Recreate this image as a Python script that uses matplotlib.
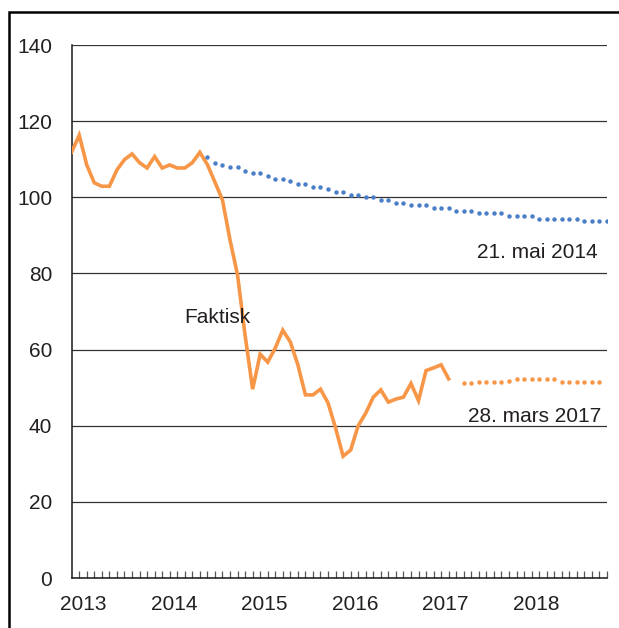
import matplotlib.pyplot as plt
import matplotlib.patches as patches
import numpy as np

plt.rcParams['font.family'] = ['Liberation Sans', 'DejaVu Sans']

# monthly oil price, Jan 2013 - Mar 2017
faktisk_start = (2013, 1)
faktisk = [111.9, 116.3, 108.5, 103.8, 102.9, 102.9, 107.2, 109.9, 111.4, 109.1, 107.7, 110.7,
           107.7, 108.5, 107.7, 107.7, 109.1, 111.8, 108.6, 104.0, 99.3, 88.8, 79.6, 63.8,
           49.6, 58.8, 56.7, 60.4, 65.1, 62.0, 56.0, 48.1, 48.1, 49.6, 46.0, 39.4,
           32.0, 33.6, 40.0, 43.3, 47.5, 49.4, 46.2, 47.0, 47.5, 51.1, 46.6, 54.5,
           55.2, 56.0, 52.3]

# futures 21. mai 2014, Jul 2014 - Dec 2018
mai_start = (2014, 7)
mai2014 = [110.5, 109.1, 108.5, 107.9, 107.9, 107.0, 106.3, 106.3, 105.6, 104.9,
           104.9, 104.3, 103.5, 103.5, 102.8, 102.8, 102.1, 101.4, 101.4, 100.7,
           100.7, 100.0, 100.0, 99.3, 99.3, 98.6, 98.6, 97.9, 97.9, 97.9,
           97.2, 97.2, 97.2, 96.5, 96.5, 96.5, 95.8, 95.8, 95.8, 95.8,
           95.1, 95.1, 95.1, 95.1, 94.4, 94.4, 94.4, 94.4, 94.4, 94.4,
           93.7, 93.7, 93.7, 93.7]

# futures 28. mars 2017, May 2017 - Nov 2018
mars_start = (2017, 5)
mars2017 = [51.1, 51.1, 51.4, 51.6, 51.6, 51.6, 51.8, 52.3, 52.3, 52.3,
            52.3, 52.3, 52.3, 51.6, 51.6, 51.6, 51.6, 51.6, 51.6]

years = ['2013', '2014', '2015', '2016', '2017', '2018']
n_months = 72


def month_idx(start, n):
    s = (start[0] - 2013) * 12 + start[1] - 1
    return np.arange(s, s + n)


orange = '#F79646'
blue = '#4A7EC6'
txt = '#231F20'

fig = plt.figure(figsize=(6.19, 6.28), dpi=100)
ax = fig.add_axes([0.1158, 0.0796, 0.8648, 0.8487])

ax.plot(month_idx(faktisk_start, len(faktisk)), faktisk, color=orange, lw=2.6,
        solid_joinstyle='miter', zorder=3)
ax.plot(month_idx(mai_start, len(mai2014)), mai2014, 'o', color=blue, ms=3.2,
        mec='none', zorder=3)
ax.plot(month_idx(mars_start, len(mars2017)), mars2017, 'o', color=orange, ms=3.2,
        mec='none', zorder=3)

ax.set_xlim(0, n_months - 1)
ax.set_ylim(0, 140)
ax.set_yticks(range(0, 141, 20))
ax.grid(axis='y', color='#333333', lw=0.9)
ax.set_axisbelow(True)

ax.set_xticks([12 * i + 1.6 for i in range(len(years))])
ax.set_xticklabels(years)
ax.set_xticks(range(1, n_months), minor=True)
ax.tick_params(axis='x', which='major', length=0, pad=12, labelsize=15, labelcolor=txt)
ax.tick_params(axis='x', which='minor', direction='in', length=5, width=0.9, color='#555555')
ax.tick_params(axis='y', length=0, pad=14, labelsize=15, labelcolor=txt)

for s in ['top', 'right']:
    ax.spines[s].set_visible(False)
for s in ['left', 'bottom']:
    ax.spines[s].set_color('#1a1a1a')
    ax.spines[s].set_linewidth(1.1)

ax.text(14.9, 68.3, 'Faktisk', fontsize=15, color=txt, ha='left', va='center')
ax.text(69.8, 85.5, '21. mai 2014', fontsize=15, color=txt, ha='right', va='center')
ax.text(70.3, 42.5, '28. mars 2017', fontsize=15, color=txt, ha='right', va='center')

fig.add_artist(patches.Rectangle((8.5 / 619, -0.5), 2, 1.5 - 12 / 628,
                                 transform=fig.transFigure, fill=False,
                                 lw=1.8, ec='black'))

fig.savefig('out.png', dpi=100)
